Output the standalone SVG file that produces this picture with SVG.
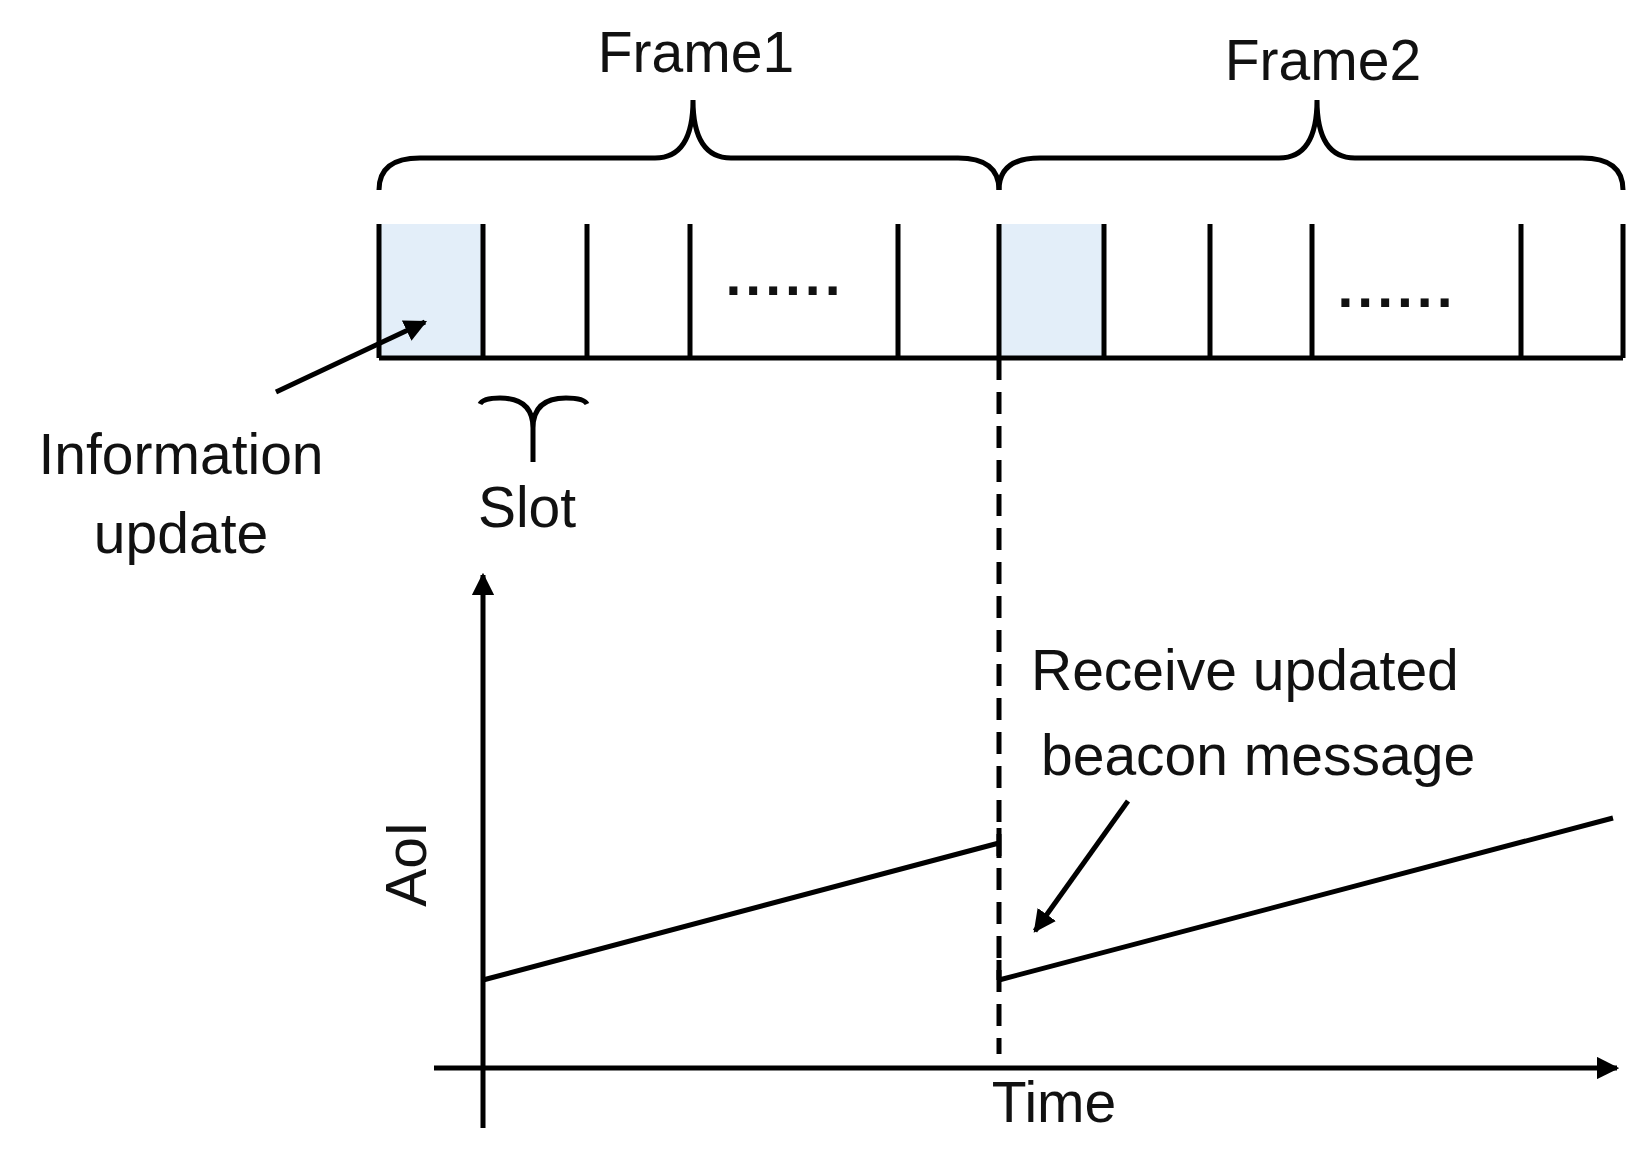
<svg xmlns="http://www.w3.org/2000/svg" width="1644" height="1150" viewBox="0 0 1644 1150">
<defs>
<marker id="ah" viewBox="0 0 10 10" refX="9" refY="5" markerWidth="4.5" markerHeight="4.5" orient="auto"><path d="M0,0 L10,5 L0,10 z" fill="#000"/></marker>
<style>
text{font-family:"Liberation Sans",Arial,sans-serif;font-size:57px;fill:#111}
.d{font-weight:bold;letter-spacing:4px}
.l{stroke:#000;stroke-width:5;fill:none}
</style>
</defs>
<rect width="1644" height="1150" fill="#fff"/>
<g id="slots">
<rect x="379" y="224" width="104" height="134" fill="#e3eef9"/>
<rect x="999" y="224" width="105" height="134" fill="#e3eef9"/>
<path class="l" d="M379,358 H1623 M379,224 V358 M483,224 V358 M587,224 V358 M690,224 V358 M898,224 V358 M999,224 V358 M1104,224 V358 M1210,224 V358 M1312,224 V358 M1521,224 V358 M1623,224 V358"/>
<text class="d" x="785" y="295" text-anchor="middle">......</text>
<text class="d" x="1397" y="307" text-anchor="middle">......</text>
</g>
<g id="frame1">
<path class="l" d="M379,190 Q379,158 420,158 H655 Q693,158 693,100 Q693,158 731,158 H958 Q999,158 999,190"/>
<text x="696" y="72" text-anchor="middle">Frame1</text>
</g>
<g id="frame2">
<path class="l" d="M999,190 Q999,158 1040,158 H1279 Q1317,158 1317,100 Q1317,158 1355,158 H1582 Q1623,158 1623,190"/>
<text x="1323" y="80" text-anchor="middle">Frame2</text>
</g>
<g id="slot">
<path class="l" d="M480,404 Q483,398 500,398 Q533,398 533,428 Q533,398 566,398 Q584,398 587,404 M533,428 V462"/>
<text x="527" y="527" text-anchor="middle">Slot</text>
</g>
<g id="info">
<text x="181" y="474" text-anchor="middle">Information</text>
<text x="181" y="553" text-anchor="middle">update</text>
</g>
<g id="axes">
<path class="l" d="M483,1128 V575" marker-end="url(#ah)"/>
<path class="l" d="M434,1068 H1617" marker-end="url(#ah)"/>
<text x="0" y="0" text-anchor="middle" transform="translate(426,864) rotate(-90)">AoI</text>
<text x="1054" y="1122" text-anchor="middle">Time</text>
</g>
<g id="connectors">
<path class="l" d="M276,392 L425,322" marker-end="url(#ah)"/>
<path class="l" stroke-dasharray="22,12" d="M999,358 V1054"/>
<path class="l" d="M483,980 L999,843 M999,828 V858"/>
<path class="l" d="M999,980 L1613,818 M999,960 V980"/>
<path class="l" d="M1128,801 L1035,931" marker-end="url(#ah)"/>
</g>
<g id="receive">
<text x="1031" y="690">Receive updated</text>
<text x="1041" y="775">beacon message</text>
</g>
</svg>
